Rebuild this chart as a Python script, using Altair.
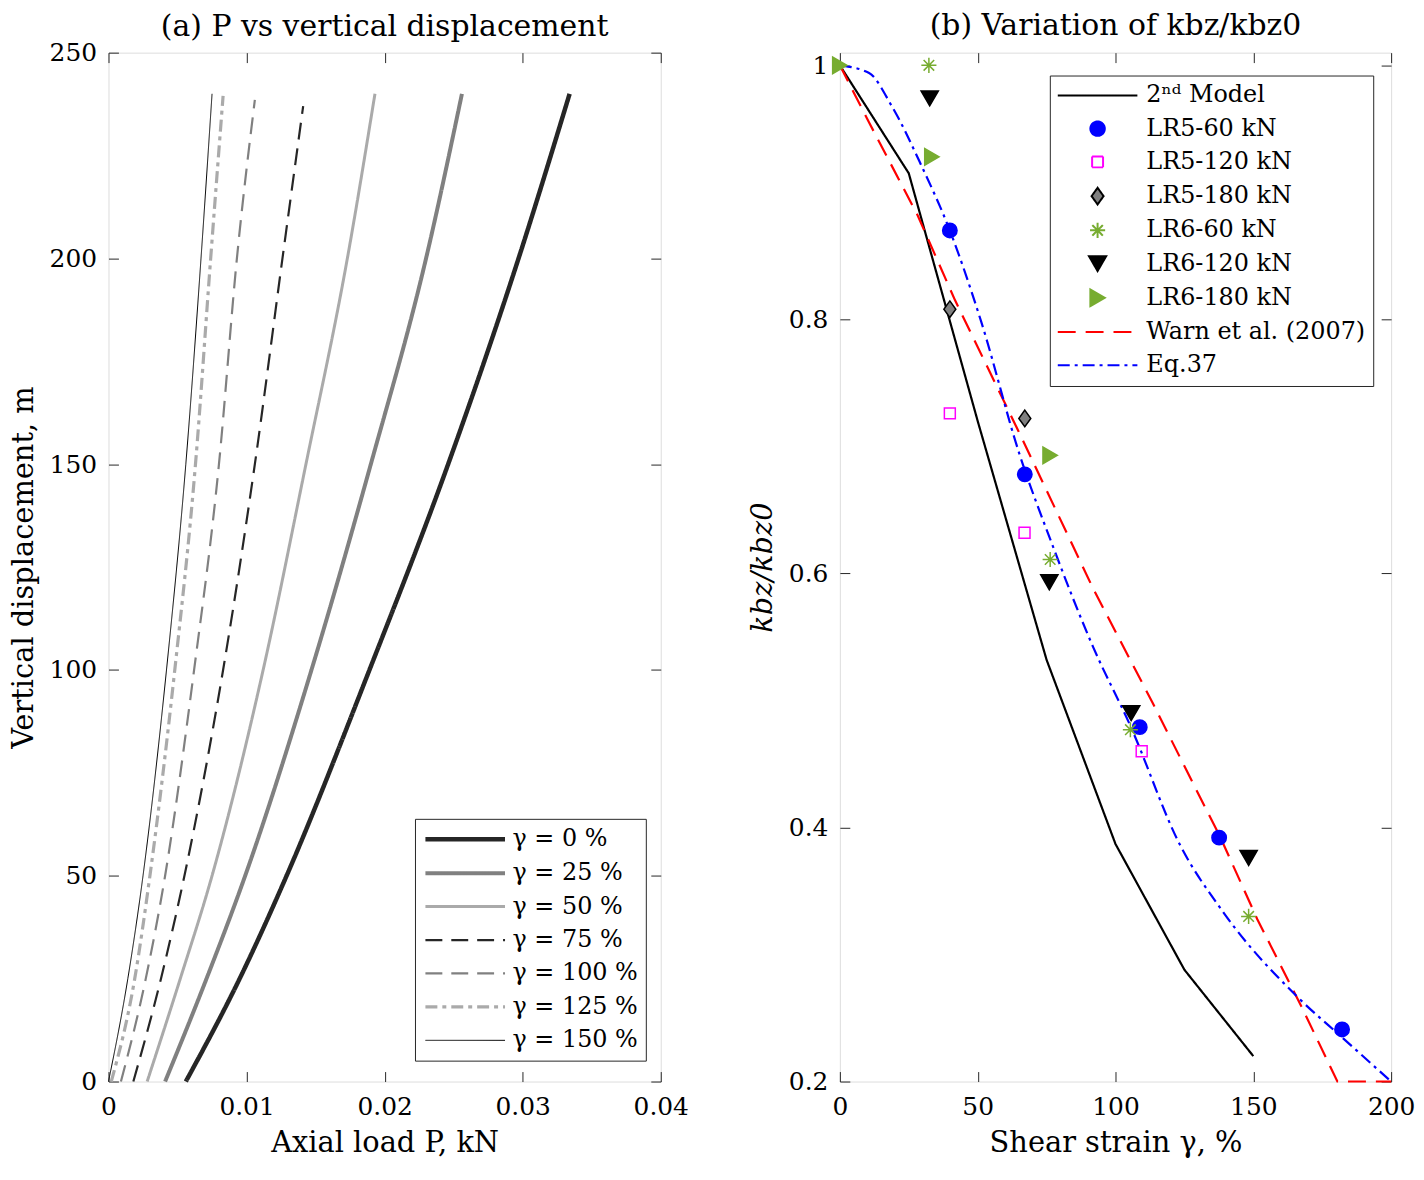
import altair as alt
import pandas as pd

FONT = "DejaVu Serif"
FRAME = "#262626"
LINE_SYM = "M-4,0L4,0"

# ---------------- Panel (a): P vs vertical displacement ----------------
gamma_labels = ["γ = 0 %", "γ = 25 %", "γ = 50 %", "γ = 75 %", "γ = 100 %", "γ = 125 %", "γ = 150 %"]
disp_common = [0, 25, 50, 100, 150, 200]
disp_top = [240, 240, 240, 237, 238.5, 239.5, 240]

p_g0 = [0.0056, 0.0095, 0.0129, 0.0189, 0.0246, 0.0297, 0.0334]
p_g25 = [0.0041, 0.0071, 0.0099, 0.0147, 0.0190, 0.0230, 0.0256]
p_g50 = [0.0028, 0.0052, 0.0075, 0.0112, 0.0143, 0.0173, 0.0193]
p_g75 = [0.0018, 0.0038, 0.0055, 0.0083, 0.0106, 0.0126, 0.0141]
p_g100 = [0.0009, 0.0027, 0.0041, 0.0062, 0.0080, 0.0093, 0.0106]
p_g125 = [0.0002, 0.0019, 0.0030, 0.0048, 0.0063, 0.0074, 0.0083]
p_g150 = [0.0000, 0.0014, 0.0025, 0.0042, 0.0056, 0.0067, 0.0075]
p_all = [p_g0, p_g25, p_g50, p_g75, p_g100, p_g125, p_g150]

a_colors = ["#262626", "#808080", "#aaaaaa", "#262626", "#808080", "#aaaaaa", "#000000"]
a_widths = [4.5, 4, 3, 2.2, 2.2, 3.2, 1]
a_dashes = [[1, 0], [1, 0], [1, 0], [17, 9], [17, 9], [12, 5, 4, 5], [1, 0]]

rows_a = []
for lab, ps, top in zip(gamma_labels, p_all, disp_top):
    ys = disp_common + [top]
    for i, (p, y) in enumerate(zip(ps, ys)):
        rows_a.append({"gser": lab, "P": p, "disp": y, "idx": i})
df_a = pd.DataFrame(rows_a)

x_a = alt.Scale(domain=[0, 0.04], nice=False, zero=False)
y_a = alt.Scale(domain=[0, 250], nice=False, zero=False)

leg_a = alt.Legend(orient="none", legendX=308, legendY=770, title=None,
                   symbolType=LINE_SYM, symbolSize=400, labelFont=FONT,
                   labelFontSize=24, labelColor="black", padding=8,
                   strokeColor=FRAME, fillColor="white", rowPadding=9.6,
                   symbolOffset=30, labelOffset=35, labelLimit=400)

ax_common = dict(domain=False, grid=False, tickColor=FRAME, tickSize=10, offset=-10,
                 labelFont=FONT, labelFontSize=25, labelColor="black",
                 labelFlush=False, labelOverlap=False,
                 titleFont=FONT, titleFontSize=29, titleFontWeight="normal",
                 titleColor="black", format="~f")
x_ax = dict(labelPadding=13, titlePadding=9)
y_ax = dict(labelPadding=12, titlePadding=11)

lines_a = alt.Chart(df_a).mark_line(interpolate="monotone").encode(
    x=alt.X("P:Q", scale=x_a,
            axis=alt.Axis(values=[0, 0.01, 0.02, 0.03, 0.04], title="Axial load P, kN",
                          **x_ax, **ax_common)),
    y=alt.Y("disp:Q", scale=y_a,
            axis=alt.Axis(values=[0, 50, 100, 150, 200, 250], title="Vertical displacement, m",
                          **y_ax, **ax_common)),
    stroke=alt.Stroke("gser:N", scale=alt.Scale(domain=gamma_labels, range=a_colors), legend=leg_a),
    strokeWidth=alt.StrokeWidth("gser:N", scale=alt.Scale(type="ordinal", domain=gamma_labels, range=a_widths),
                                legend=leg_a),
    strokeDash=alt.StrokeDash("gser:N", scale=alt.Scale(domain=gamma_labels, range=a_dashes), legend=leg_a),
    order="idx:Q",
)

mirror_common = dict(domain=False, grid=False, labels=False, title=None, tickColor=FRAME,
                     tickSize=10, offset=-10)
mirror_a = alt.Chart(df_a).mark_point(opacity=0).encode(
    x=alt.X("P:Q", scale=x_a, axis=alt.Axis(orient="top", values=[0, 0.01, 0.02, 0.03, 0.04], **mirror_common)),
    y=alt.Y("disp:Q", scale=y_a, axis=alt.Axis(orient="right", values=[0, 50, 100, 150, 200, 250], **mirror_common)),
)

left = alt.layer(lines_a, mirror_a).resolve_axis(x="independent", y="independent").properties(
    width=555, height=1034,
    title=alt.TitleParams("(a) P vs vertical displacement", font=FONT, fontSize=30,
                          fontWeight="normal", color="black", offset=-1, anchor="middle"),
)

# ---------------- Panel (b): variation of k_bz/k_bz0 ----------------
series_b = ["2ⁿᵈ Model", "LR5-60 kN", "LR5-120 kN", "LR5-180 kN", "LR6-60 kN",
            "LR6-120 kN", "LR6-180 kN", "Warn et al. (2007)", "Eq.37"]
ASTERISK = "M-1,0L1,0M0,-1L0,1M-0.7,-0.7L0.7,0.7M-0.7,0.7L0.7,-0.7"
DIAMOND = "M0,-1L0.72,0L0,1L-0.72,0Z"
b_stroke = ["#000000", "#0000ff", "#ff00ff", "#000000", "#77ac30", "#000000", "#77ac30", "#ff0000", "#0000ff"]
b_fill = ["transparent", "#0000ff", "transparent", "#808080", "transparent", "#000000", "#77ac30", "transparent", "transparent"]
b_shape = [LINE_SYM, "circle", "square", DIAMOND, ASTERISK, "triangle-down", "triangle-right", LINE_SYM, LINE_SYM]
b_size = [400, 210, 121, 280, 230, 300, 280, 400, 400]
b_dash = [[1, 0], [1, 0], [1, 0], [1, 0], [1, 0], [1, 0], [1, 0], [18, 10], [12, 5, 3, 5]]

model_gamma = [0, 25, 50, 75, 100, 125, 150]
model_k = [1.0, 0.915, 0.72, 0.532, 0.387, 0.288, 0.22]
warn_gamma = [0, 10.6, 28.2, 41.8, 64.8, 72.9, 91.9, 113.5, 130.4, 137.9, 151.4, 167.7, 180.5, 200]
warn_k = [1.0, 0.955, 0.882, 0.815, 0.712, 0.675, 0.588, 0.498, 0.425, 0.393, 0.328, 0.258, 0.2, 0.2]
eq_gamma = [0, 10.6, 18.8, 29.6, 39.9, 51.3, 65.0, 77, 91.9, 105.4, 123, 139.2, 166.3, 182.6, 200]
eq_k = [1.0, 0.994, 0.968, 0.921, 0.870, 0.798, 0.695, 0.623, 0.542, 0.480, 0.388, 0.333, 0.266, 0.234, 0.2]

lr5_60_g = [39.9, 67.1, 108.8, 137.6, 182.2]
lr5_60_k = [0.870, 0.678, 0.479, 0.392, 0.241]
lr5_120_g = [39.9, 67.0, 109.5]
lr5_120_k = [0.726, 0.632, 0.460]
lr5_180_g = [39.9, 67.1]
lr5_180_k = [0.808, 0.722]
lr6_60_g = [32.3, 76.3, 105.4, 148.3]
lr6_60_k = [1.0, 0.611, 0.477, 0.330]
lr6_120_g = [32.6, 76.0, 105.7, 148.3]
lr6_120_k = [0.974, 0.593, 0.490, 0.376]
lr6_180_g = [0, 33.4, 76.3]
lr6_180_k = [1.0, 0.928, 0.693]

rows_l = []
for lab, gs, ks in [(series_b[0], model_gamma, model_k), (series_b[7], warn_gamma, warn_k)]:
    for i, (g, k) in enumerate(zip(gs, ks)):
        rows_l.append({"series": lab, "g": g, "k": k, "idx": i})
df_l = pd.DataFrame(rows_l)
df_eq = pd.DataFrame({"series": series_b[8], "g": eq_gamma, "k": eq_k, "idx": list(range(len(eq_gamma)))})

rows_p = []
for lab, gs, ks in [(series_b[1], lr5_60_g, lr5_60_k), (series_b[2], lr5_120_g, lr5_120_k),
                    (series_b[3], lr5_180_g, lr5_180_k), (series_b[4], lr6_60_g, lr6_60_k),
                    (series_b[5], lr6_120_g, lr6_120_k), (series_b[6], lr6_180_g, lr6_180_k)]:
    for g, k in zip(gs, ks):
        rows_p.append({"series": lab, "g": g, "k": k})
df_p = pd.DataFrame(rows_p)

x_b = alt.Scale(domain=[0, 200], nice=False, zero=False)
y_b = alt.Scale(domain=[0.2, 1.01], nice=False, zero=False)
xv_b = [0, 50, 100, 150, 200]
yv_b = [0.2, 0.4, 0.6, 0.8, 1.0]

leg_b = alt.Legend(orient="none", legendX=211, legendY=23, title=None,
                   labelFont=FONT, labelFontSize=24, labelColor="black", padding=8,
                   strokeColor=FRAME, fillColor="white", rowPadding=9.4,
                   symbolOffset=28, labelOffset=37, labelLimit=400, symbolStrokeWidth=2)

s_stroke = alt.Scale(domain=series_b, range=b_stroke)
s_fill = alt.Scale(domain=series_b, range=b_fill)
s_shape = alt.Scale(domain=series_b, range=b_shape)
s_size = alt.Scale(type="ordinal", domain=series_b, range=b_size)
s_dash = alt.Scale(domain=series_b, range=b_dash)

lines_b = alt.Chart(df_l).mark_line(strokeWidth=2.2).encode(
    x=alt.X("g:Q", scale=x_b, axis=alt.Axis(values=xv_b, title="Shear strain γ, %",
                                            **x_ax, **ax_common)),
    y=alt.Y("k:Q", scale=y_b, axis=alt.Axis(values=yv_b, title="kbz/kbz0", titleFontStyle="italic",
                                            **y_ax, **ax_common)),
    stroke=alt.Stroke("series:N", scale=s_stroke, legend=leg_b),
    strokeDash=alt.StrokeDash("series:N", scale=s_dash, legend=leg_b),
    order="idx:Q",
)

eq_b = alt.Chart(df_eq).mark_line(strokeWidth=2.2, interpolate="monotone").encode(
    x=alt.X("g:Q", scale=x_b, axis=None),
    y=alt.Y("k:Q", scale=y_b, axis=None),
    stroke=alt.Stroke("series:N", scale=s_stroke, legend=leg_b),
    strokeDash=alt.StrokeDash("series:N", scale=s_dash, legend=leg_b),
    order="idx:Q",
)

points_b = alt.Chart(df_p).mark_point(filled=True, strokeWidth=1.5, opacity=1).encode(
    x=alt.X("g:Q", scale=x_b, axis=None),
    y=alt.Y("k:Q", scale=y_b, axis=None),
    stroke=alt.Stroke("series:N", scale=s_stroke, legend=leg_b),
    fill=alt.Fill("series:N", scale=s_fill, legend=leg_b),
    shape=alt.Shape("series:N", scale=s_shape, legend=leg_b),
    size=alt.Size("series:N", scale=s_size, legend=leg_b),
)

mirror_b = alt.Chart(df_l).mark_point(opacity=0).encode(
    x=alt.X("g:Q", scale=x_b, axis=alt.Axis(orient="top", values=xv_b, **mirror_common)),
    y=alt.Y("k:Q", scale=y_b, axis=alt.Axis(orient="right", values=yv_b, **mirror_common)),
)

right = alt.layer(lines_b, eq_b, points_b, mirror_b).resolve_axis(x="independent", y="independent").properties(
    width=554, height=1034,
    title=alt.TitleParams("(b) Variation of kbz/kbz0", font=FONT, fontSize=30,
                          fontWeight="normal", color="black", offset=11, anchor="middle"),
)

chart = alt.hconcat(left, right, spacing=58).resolve_scale(
    x="independent", y="independent", stroke="independent", strokeWidth="independent",
    strokeDash="independent", fill="independent", shape="independent", size="independent",
).resolve_legend(
    stroke="independent", strokeWidth="independent", strokeDash="independent",
    fill="independent", shape="independent", size="independent",
).properties(padding=0).configure_view(
    stroke=FRAME, strokeWidth=1.5
).configure(background="white")

chart.save("out.html", embed_options={"renderer": "svg", "actions": False})
